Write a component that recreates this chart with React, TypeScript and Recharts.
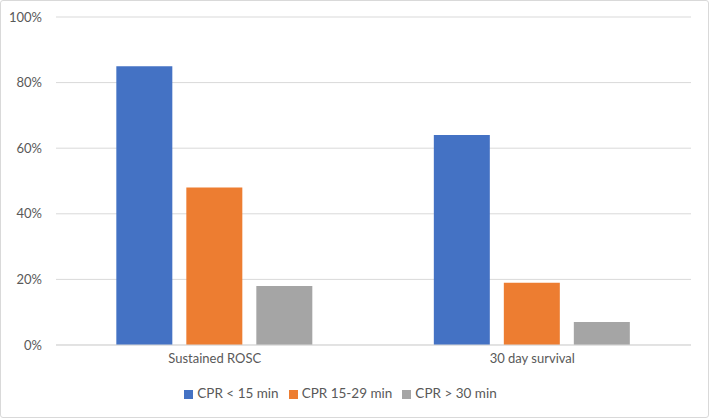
import React from 'react';
import { BarChart, Bar, XAxis, YAxis, CartesianGrid, Legend } from 'recharts';

const categories = ['Sustained ROSC', '30 day survival'];
const cprUnder15 = [85, 64];
const cpr15to29 = [48, 19];
const cprOver30 = [18, 7];
const yTicks = [0, 20, 40, 60, 80, 100];

const data = categories.map((c, i) => ({
  name: c,
  a: cprUnder15[i],
  b: cpr15to29[i],
  c: cprOver30[i],
}));

const textColor = '#595959';
const font = 'Lato, "Open Sans", sans-serif';

export default function App() {
  return (
    <div
      style={{
        position: 'absolute',
        left: 0,
        top: 0,
        width: 709,
        height: 418,
        boxSizing: 'border-box',
        border: '1px solid #D9D9D9',
        borderRadius: 3,
        background: '#fff',
        fontFamily: font,
      }}
    >
      <div style={{ position: 'absolute', left: -1, top: -1 }}>
        <BarChart
          width={709}
          height={418}
          data={data}
          margin={{ top: 17, right: 18, left: 0, bottom: 0 }}
          barCategoryGap="19%"
          barGap={14}
        >
          <CartesianGrid vertical={false} stroke="#D9D9D9" />
          <XAxis
            dataKey="name"
            axisLine={{ stroke: '#D9D9D9' }}
            tickLine={false}
            height={38}
            tick={{ fill: textColor, fontSize: 13, fontFamily: font }}
            tickMargin={3}
          />
          <YAxis
            domain={[0, 100]}
            ticks={yTicks}
            tickFormatter={(v: number) => `${v}%`}
            axisLine={false}
            tickLine={false}
            width={56}
            tickMargin={8}
            tick={{ fill: textColor, fontSize: 13, fontFamily: font }}
          />
          <Legend
            verticalAlign="bottom"
            height={33}
            iconType="square"
            iconSize={9}
            itemSorter="dataKey"
            wrapperStyle={{ fontSize: 13.5, fontFamily: font, color: textColor, paddingTop: 2 }}
            formatter={(v: string) => <span style={{ color: textColor }}>{v}</span>}
          />
          <Bar dataKey="a" name="CPR < 15 min" fill="#4472C4" isAnimationActive={false} />
          <Bar dataKey="b" name="CPR 15-29 min" fill="#ED7D31" isAnimationActive={false} />
          <Bar dataKey="c" name="CPR > 30 min" fill="#A5A5A5" isAnimationActive={false} />
        </BarChart>
      </div>
    </div>
  );
}
